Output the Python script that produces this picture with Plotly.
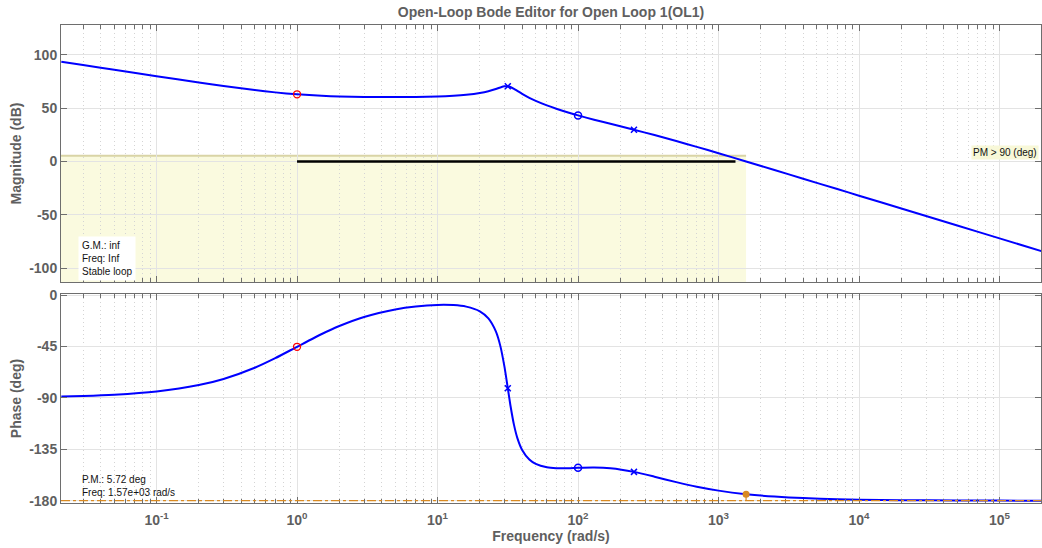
import plotly.graph_objects as go

# ---------------- data ----------------
freq = [0.021, 0.03, 0.05, 0.1, 0.2, 0.3, 0.5, 0.7, 1, 1.5, 2, 3, 5, 7,
        10, 13, 16, 20, 23, 26, 28, 30, 31.62, 33, 35, 37, 40, 45, 50, 60, 70, 85,
        100, 130, 170, 250, 350, 500, 700, 1000, 1570, 2500, 4000, 7000,
        1e4, 2e4, 5e4, 1e5, 2.02e5]
mag_db = [93.56, 90.46, 86.03, 80.04, 74.15, 70.83, 66.99, 64.83, 63.02, 61.62, 61.00, 60.54, 60.39, 60.52,
          60.94, 61.59, 62.49, 64.15, 65.84, 67.94, 69.42, 70.47, 70.52, 69.86, 68.16, 66.19, 63.43, 59.71, 56.84, 52.58, 49.45, 45.93,
          43.23, 39.20, 35.32, 29.81, 24.81, 19.23, 13.74, 7.75, 0.03, -7.99, -16.14, -25.85,
          -32.04, -44.08, -60.00, -72.04, -84.26]
phase_deg = [-88.80, -88.29, -87.15, -84.31, -78.73, -73.37, -63.54, -55.16, -45.22, -34.02, -27.01, -19.10, -12.47, -9.86,
             -8.51, -8.69, -10.06, -14.22, -20.39, -31.77, -44.62, -63.30, -81.48, -96.41, -113.60, -125.18, -135.56, -143.96, -147.80, -150.75, -151.49, -151.47,
             -151.16, -150.90, -151.61, -154.75, -158.95, -163.72, -167.76, -171.17, -174.28, -176.38, -177.72, -178.70,
             -179.09, -179.55, -179.82, -179.91, -179.96]

# compensator (red) and plant (blue) pole/zero markers
comp_zero_freq = [1]
comp_zero_mag = [63.02]
comp_zero_phase = [-45.22]
plant_zero_freq = [100]
plant_zero_mag = [43.23]
plant_zero_phase = [-151.16]
plant_pole_freq = [31.62, 250]
plant_pole_mag = [70.52, 29.81]
plant_pole_phase = [-81.48, -154.75]

# stability margins
pm_freq = 1570
pm_phase = -174.28
pm_text = "P.M.: 5.72 deg<br>Freq: 1.57e+03 rad/s"
gm_text = "G.M.: inf<br>Freq: Inf<br>Stable loop"
ruler_freq = [1, 1320]
ruler_db = [0, 0]
shade_top_db = 5.5

# axes
x_log_range = [-1.68, 5.295]
mag_range = [-113, 128]
phase_range = [-182, 1]
x_tickvals = [0.1, 1, 10, 100, 1000, 10000, 100000]
x_ticktext = ["10<sup>-1</sup>", "10<sup>0</sup>", "10<sup>1</sup>", "10<sup>2</sup>",
              "10<sup>3</sup>", "10<sup>4</sup>", "10<sup>5</sup>"]
mag_tickvals = [-100, -50, 0, 50, 100]
mag_ticktext = ["-100", "-50", "0", "50", "100"]
phase_tickvals = [-180, -135, -90, -45, 0]
phase_ticktext = ["-180", "-135", "-90", "-45", "0"]

minor_vals = [m * 10 ** d for d in range(-2, 6) for m in range(2, 10)]

# ---------------- styling ----------------
FONT = "Liberation Sans, Arial, Helvetica, sans-serif"
GRAY = "#5f5f5f"
AXCOL = "#6e6e6e"
BLUE = "#0000ff"
RED = "#ff0000"
ORANGE = "#d98a22"

fig = go.Figure()

# magnitude
fig.add_trace(go.Scatter(x=ruler_freq, y=ruler_db, mode="lines",
                         line=dict(color="black", width=2.5), xaxis="x", yaxis="y", hoverinfo="skip"))
fig.add_trace(go.Scatter(x=freq, y=mag_db, mode="lines", line=dict(color=BLUE, width=2, shape="spline", smoothing=0.6),
                         xaxis="x", yaxis="y"))
fig.add_trace(go.Scatter(x=comp_zero_freq, y=comp_zero_mag, mode="markers",
                         marker=dict(symbol="circle-open", size=7, color=RED, line=dict(width=1.3, color=RED)),
                         xaxis="x", yaxis="y"))
fig.add_trace(go.Scatter(x=plant_zero_freq, y=plant_zero_mag, mode="markers",
                         marker=dict(symbol="circle-open", size=7, color=BLUE, line=dict(width=1.5, color=BLUE)),
                         xaxis="x", yaxis="y"))
fig.add_trace(go.Scatter(x=plant_pole_freq, y=plant_pole_mag, mode="markers",
                         marker=dict(symbol="x-thin-open", size=6, color=BLUE, line=dict(width=1.5, color=BLUE)),
                         xaxis="x", yaxis="y"))

# phase
fig.add_trace(go.Scatter(x=[pm_freq, pm_freq], y=[phase_tickvals[0], pm_phase], mode="lines",
                         line=dict(color=ORANGE, width=1.2), xaxis="x2", yaxis="y2"))
fig.add_trace(go.Scatter(x=freq, y=phase_deg, mode="lines", line=dict(color=BLUE, width=2, shape="spline", smoothing=0.6),
                         xaxis="x2", yaxis="y2"))
fig.add_trace(go.Scatter(x=comp_zero_freq, y=comp_zero_phase, mode="markers",
                         marker=dict(symbol="circle-open", size=7, color=RED, line=dict(width=1.3, color=RED)),
                         xaxis="x2", yaxis="y2"))
fig.add_trace(go.Scatter(x=plant_zero_freq, y=plant_zero_phase, mode="markers",
                         marker=dict(symbol="circle-open", size=7, color=BLUE, line=dict(width=1.5, color=BLUE)),
                         xaxis="x2", yaxis="y2"))
fig.add_trace(go.Scatter(x=plant_pole_freq, y=plant_pole_phase, mode="markers",
                         marker=dict(symbol="x-thin-open", size=6, color=BLUE, line=dict(width=1.5, color=BLUE)),
                         xaxis="x2", yaxis="y2"))
fig.add_trace(go.Scatter(x=[pm_freq], y=[pm_phase], mode="markers",
                         marker=dict(symbol="circle", size=7, color=ORANGE), xaxis="x2", yaxis="y2"))

xmin = 10 ** x_log_range[0]
shapes = [
    dict(type="rect", xref="x", yref="y", x0=xmin, x1=pm_freq, y0=mag_range[0], y1=shade_top_db,
         fillcolor="#fafadf", line=dict(width=0), layer="below"),
    dict(type="line", xref="x", yref="y", x0=xmin, x1=pm_freq, y0=shade_top_db, y1=shade_top_db,
         line=dict(color="#d9d4a6", width=2), layer="below"),
    dict(type="line", xref="x2 domain", yref="y2", x0=0, x1=1, y0=phase_tickvals[0], y1=phase_tickvals[0],
         line=dict(color=ORANGE, width=1.3, dash="dashdot")),
]

common_x = dict(type="log", range=x_log_range, showline=True, linecolor=AXCOL, linewidth=1, mirror="ticks",
                ticks="inside", ticklen=6, tickcolor=AXCOL, tickvals=x_tickvals, ticktext=x_ticktext,
                showgrid=True, gridcolor="#e3e3e3", gridwidth=1, zeroline=False, automargin=False,
                ticklabelstandoff=4,
                minor=dict(tickvals=minor_vals, ticks="inside", ticklen=4, tickcolor=AXCOL,
                           showgrid=True, gridcolor="#d4d4d4", griddash="1px,3px", gridwidth=1),
                tickfont=dict(family=FONT, size=14, color=GRAY, weight="bold"))
common_y = dict(showline=True, linecolor=AXCOL, linewidth=1, mirror="ticks", ticks="inside", ticklen=6,
                tickcolor=AXCOL, showgrid=True, gridcolor="#e3e3e3", zeroline=False, automargin=False,
                tickfont=dict(family=FONT, size=14, color=GRAY, weight="bold"))

fig.update_layout(
    width=1042, height=548,
    margin=dict(l=61, r=1, t=25, b=45, autoexpand=False),
    paper_bgcolor="white", plot_bgcolor="white",
    showlegend=False,
    title=dict(text="Open-Loop Bode Editor for Open Loop 1(OL1)", x=0.5, xref="paper",
               y=1 - 12 / 548, yref="container", yanchor="middle", automargin=False,
               font=dict(family=FONT, size=14, color=GRAY, weight="bold")),
    xaxis=dict(common_x, domain=[0, 1], anchor="y", showticklabels=False, matches="x2"),
    yaxis=dict(common_y, domain=[0.4623, 1], anchor="x", range=mag_range,
               tickvals=mag_tickvals, ticktext=mag_ticktext,
               title=dict(text="Magnitude (dB)", standoff=4, font=dict(family=FONT, size=14, color=GRAY, weight="bold"))),
    xaxis2=dict(common_x, domain=[0, 1], anchor="y2",
                title=dict(text="Frequency (rad/s)", standoff=3, font=dict(family=FONT, size=14, color=GRAY, weight="bold"))),
    yaxis2=dict(common_y, domain=[0, 0.4372], anchor="x2", range=phase_range,
                tickvals=phase_tickvals, ticktext=phase_ticktext,
                title=dict(text="Phase (deg)", standoff=4, font=dict(family=FONT, size=14, color=GRAY, weight="bold"))),
    shapes=shapes,
    annotations=[
        dict(text=gm_text, xref="x domain", yref="y domain", x=0.017, y=0.18, xanchor="left", yanchor="top",
             align="left", showarrow=False, bgcolor="white", borderpad=3,
             font=dict(family=FONT, size=10, color="#111111")),
        dict(text=pm_text, xref="x2 domain", yref="y2 domain", x=0.019, y=0.15, xanchor="left", yanchor="top",
             align="left", showarrow=False, font=dict(family=FONT, size=10, color="#111111")),
        dict(text="PM > 90 (deg)", xref="x domain", yref="y", x=0.998, y=8.7, xanchor="right", yanchor="middle",
             showarrow=False, bgcolor="#f8f8d8", borderpad=1, font=dict(family=FONT, size=10, color="#111111")),
    ],
)

fig.write_html("out.html", config={"displayModeBar": False},
               post_script="document.body.style.margin='0';document.body.style.overflow='hidden';")
